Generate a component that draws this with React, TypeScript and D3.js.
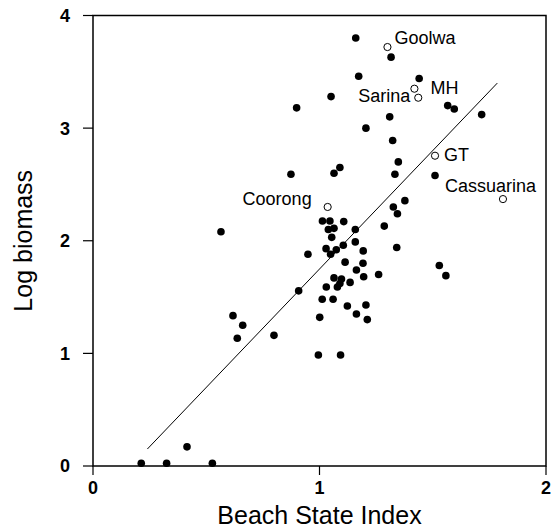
import React from 'react';
import * as d3 from 'd3';

// Filled sites: [beach state index, log biomass]
const filledPoints: [number, number][] = [
  [1.16, 3.8], [1.316, 3.63], [1.173, 3.46], [1.44, 3.44], [1.051, 3.28],
  [0.899, 3.18], [1.566, 3.2], [1.595, 3.17], [1.716, 3.12], [1.31, 3.1],
  [1.205, 3.0], [1.323, 2.89], [1.348, 2.7], [0.874, 2.59], [1.064, 2.6],
  [1.09, 2.65], [1.333, 2.59], [1.51, 2.58], [1.377, 2.356], [1.326, 2.3],
  [1.344, 2.24], [1.013, 2.176], [1.046, 2.176], [1.107, 2.17], [1.039, 2.1],
  [1.064, 2.11], [1.158, 2.1], [1.286, 2.13], [1.054, 2.03], [1.158, 1.99],
  [1.105, 1.96], [1.029, 1.93], [1.074, 1.92], [1.049, 1.88], [0.949, 1.88],
  [1.193, 1.91], [1.341, 1.94], [1.113, 1.81], [1.192, 1.8], [1.163, 1.74],
  [1.195, 1.68], [1.261, 1.7], [1.064, 1.67], [1.097, 1.66], [1.529, 1.78],
  [1.558, 1.69], [1.09, 1.62], [1.079, 1.59], [1.135, 1.63], [1.03, 1.59],
  [0.908, 1.555], [1.012, 1.48], [1.06, 1.48], [1.123, 1.42], [1.205, 1.43],
  [1.163, 1.35], [1.001, 1.32], [1.211, 1.3], [0.565, 2.08], [0.618, 1.335],
  [0.661, 1.25], [0.637, 1.134], [0.799, 1.16], [0.995, 0.985], [1.093, 0.985],
  [0.415, 0.17], [0.213, 0.024], [0.325, 0.024], [0.527, 0.024],
];

// Named sites (open circles)
const openNames = ['Goolwa', 'MH', 'Sarina', 'GT', 'Cassuarina', 'Coorong'];
const openX = [1.3, 1.419, 1.436, 1.51, 1.81, 1.036];
const openY = [3.72, 3.35, 3.27, 2.755, 2.37, 2.3];
// label offsets in px from the point, and anchor
const labelDx = [7, 16, -8, 9, -58, -16];
const labelDy = [-3, 5, 4, 5, -7, -2];
const labelAnchor = ['start', 'start', 'end', 'start', 'start', 'end'];

const xTicks = [0, 1, 2];
const yTicks = [0, 1, 2, 3, 4];

// fitted regression line
const fitSlope = 2.103;
const fitIntercept = -0.354;
const fitRange = [0.24, 1.785];

const W = 552;
const H = 528;
const left = 93;
const right = 546;
const top = 15.5;
const bottom = 466;

export default function App() {
  const x = d3.scaleLinear().domain([0, 2]).range([left, right]);
  const y = d3.scaleLinear().domain([0, 4]).range([bottom, top]);
  const font = '"Liberation Sans", Arial, sans-serif';

  const fitLine = d3.line<number>()
    .x(d => x(d))
    .y(d => y(fitSlope * d + fitIntercept));

  return (
    <div style={{ position: 'absolute', left: 0, top: 0 }}>
      <svg width={W} height={H} style={{ display: 'block', background: '#fff' }} fontFamily={font}>
        <rect x={left} y={top} width={right - left} height={bottom - top}
          fill="none" stroke="#000" strokeWidth={1.5} />

        {yTicks.map(t => (
          <g key={`y${t}`}>
            <line x1={left - 10} x2={left} y1={y(t)} y2={y(t)} stroke="#000" strokeWidth={1.2} />
            <text x={left - 23} y={y(t)} dy="0.36em" textAnchor="end" fontSize={18} fontWeight="bold">{t}</text>
          </g>
        ))}
        {xTicks.map(t => (
          <g key={`x${t}`}>
            <line x1={x(t)} x2={x(t)} y1={bottom} y2={bottom + 9} stroke="#000" strokeWidth={1.2} />
            <text x={x(t)} y={bottom + 28} textAnchor="middle" fontSize={18} fontWeight="bold">{t}</text>
          </g>
        ))}

        <path d={fitLine(fitRange) || ''} fill="none" stroke="#000" strokeWidth={1} />

        {filledPoints.map((p, i) => (
          <circle key={`f${i}`} cx={x(p[0])} cy={y(p[1])} r={3.8} fill="#000" />
        ))}

        {openNames.map((name, i) => (
          <g key={name}>
            <circle cx={x(openX[i])} cy={y(openY[i])} r={3.6} fill="#fff" stroke="#000" strokeWidth={1} />
            <text x={x(openX[i]) + labelDx[i]} y={y(openY[i]) + labelDy[i]}
              textAnchor={labelAnchor[i] as any} fontSize={18}>{name}</text>
          </g>
        ))}

        <text x={(left + right) / 2} y={524} textAnchor="middle" fontSize={25}>Beach State Index</text>
        <text transform={`translate(32,${(top + bottom) / 2}) rotate(-90)`} textAnchor="middle" fontSize={25}>Log biomass</text>
      </svg>
    </div>
  );
}
